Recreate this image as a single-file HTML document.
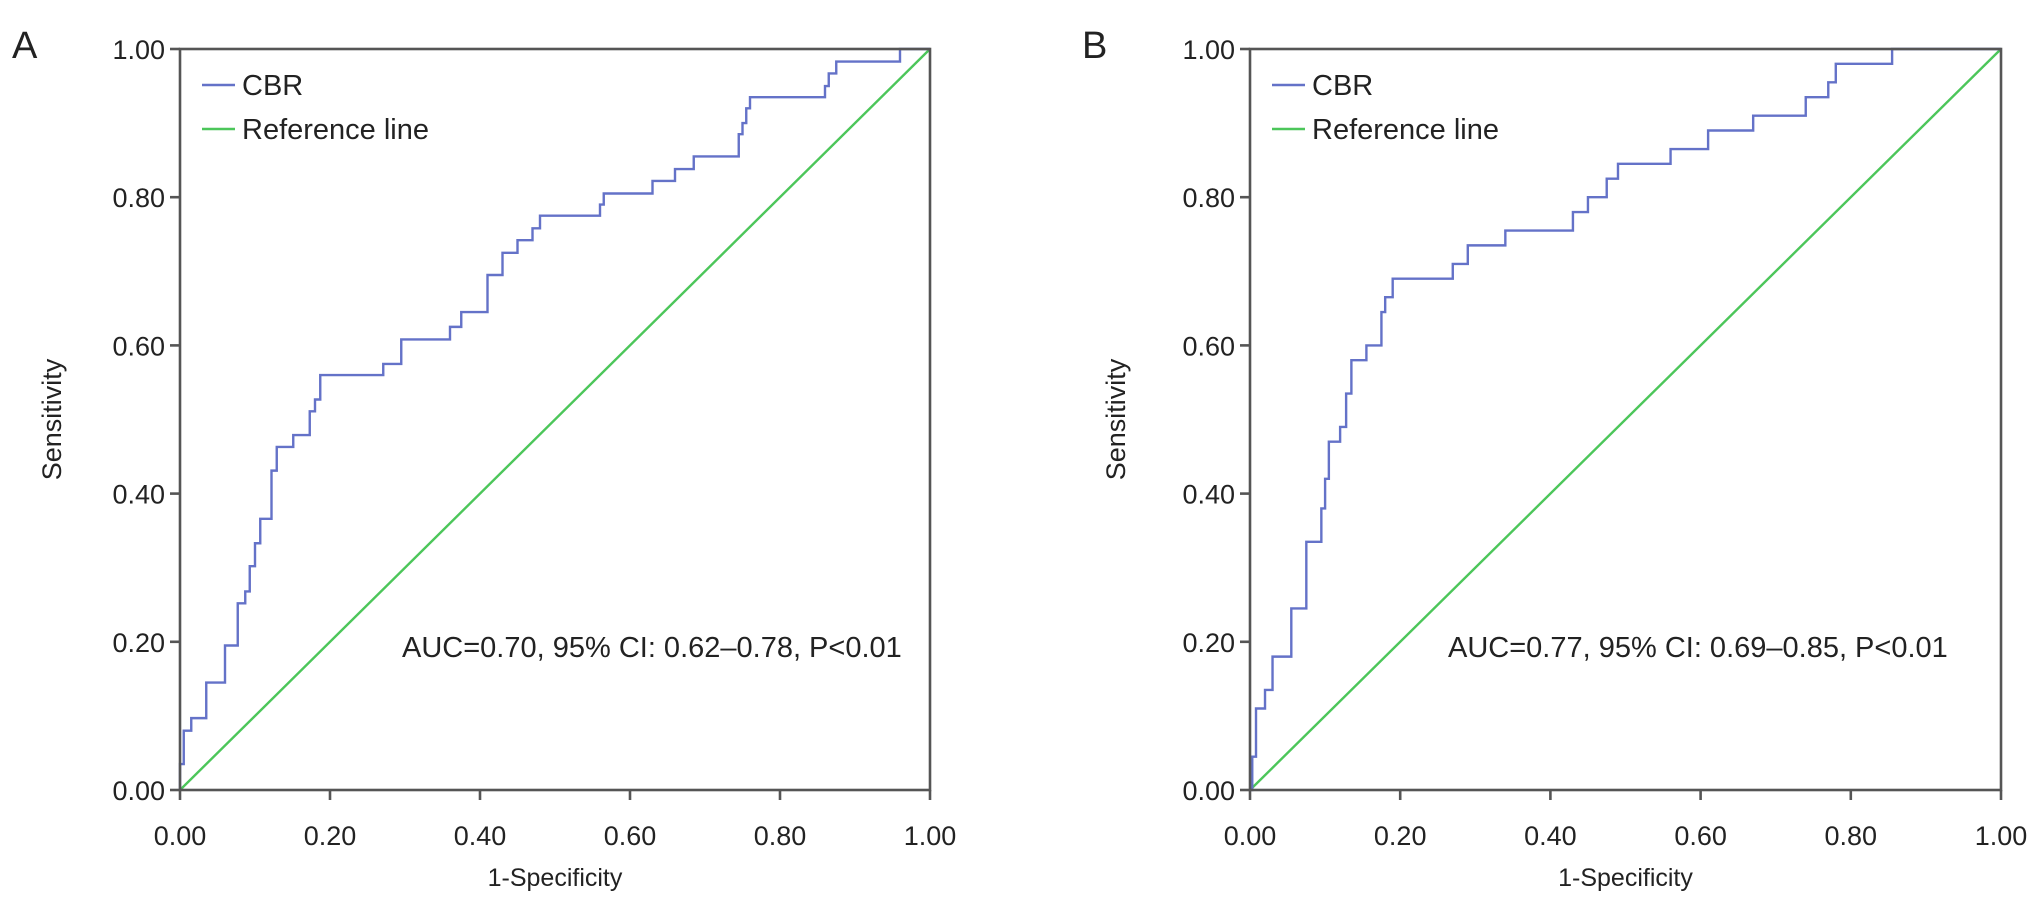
<!DOCTYPE html>
<html><head><meta charset="utf-8"><style>
body{margin:0;background:#fff}
svg{display:block;font-family:"Liberation Sans",Arial,sans-serif}
</style></head><body>
<svg id="chart" width="2032" height="901" viewBox="0 0 2032 901"></svg>
<script>
const xTicks=[0,0.2,0.4,0.6,0.8,1.0];
const yTicks=[0,0.2,0.4,0.6,0.8,1.0];
const fprA=[0,0,0.005,0.015,0.035,0.06,0.077,0.087,0.093,0.1,0.107,0.122,0.129,0.151,0.173,0.18,0.187,0.271,0.295,0.36,0.375,0.41,0.43,0.45,0.47,0.48,0.56,0.565,0.63,0.66,0.685,0.745,0.75,0.755,0.76,0.86,0.865,0.875,0.96,1];
const tprA=[0,0.035,0.08,0.097,0.145,0.195,0.252,0.268,0.302,0.333,0.366,0.431,0.463,0.479,0.511,0.527,0.56,0.575,0.608,0.625,0.645,0.695,0.725,0.742,0.758,0.775,0.79,0.805,0.822,0.838,0.855,0.885,0.9,0.92,0.935,0.95,0.967,0.983,1,1];
const fprB=[0,0.003,0.008,0.02,0.03,0.055,0.075,0.095,0.1,0.105,0.12,0.128,0.135,0.155,0.175,0.18,0.19,0.27,0.29,0.34,0.43,0.45,0.475,0.49,0.56,0.61,0.67,0.74,0.77,0.78,0.855,1];
const tprB=[0,0.045,0.11,0.135,0.18,0.245,0.335,0.38,0.42,0.47,0.49,0.535,0.58,0.6,0.645,0.665,0.69,0.71,0.735,0.755,0.78,0.8,0.825,0.845,0.865,0.89,0.91,0.935,0.955,0.98,1,1];
const panels=[
 {id:'a',letter:'A',x0:180,x1:930,fpr:fprA,tpr:tprA,auc:'AUC=0.70, 95% CI: 0.62–0.78, P<0.01',aucX:402,ylab:52},
 {id:'b',letter:'B',x0:1250,x1:2001,fpr:fprB,tpr:tprB,auc:'AUC=0.77, 95% CI: 0.69–0.85, P<0.01',aucX:1448,ylab:1116}
];
const Y0=790,Y1=49;
const NS='http://www.w3.org/2000/svg';
const svg=document.getElementById('chart');
function mk(t,a,p){const e=document.createElementNS(NS,t);for(const k in a)e.setAttribute(k,a[k]);(p||svg).appendChild(e);return e;}
panels.forEach(P=>{
 const sx=v=>P.x0+v*(P.x1-P.x0), sy=v=>Y0+v*(Y1-Y0);
 const g=mk('g',{});
 
 
 const L=mk('text',{x:P.x0-168,y:58,'font-size':38,fill:'#222'},g);L.textContent=P.letter;
 
 
 const ref=mk('line',{x1:sx(0),y1:sy(0),x2:sx(1),y2:sy(1),stroke:'#4cc65a','stroke-width':2.4},g);
 
 
 let d='M'+sx(P.fpr[0])+','+sy(P.tpr[0]);
 for(let i=1;i<P.fpr.length;i++){d+=' H'+sx(P.fpr[i])+' V'+sy(P.tpr[i]);}
 const c=mk('path',{d:d,fill:'none',stroke:'#6472c8','stroke-width':2.4},g);
 
 
 const fr=mk('rect',{x:sx(0),y:sy(1),width:P.x1-P.x0,height:Y0-Y1,fill:'none',stroke:'#555','stroke-width':2.6},g);
 
 
 yTicks.forEach(v=>{
  mk('line',{x1:sx(0)-10,x2:sx(0),y1:sy(v),y2:sy(v),stroke:'#555','stroke-width':2.6},g);
  const t=mk('text',{x:sx(0)-15,y:sy(v)+10,'font-size':27,'text-anchor':'end',fill:'#222'},g);t.textContent=v.toFixed(2);
  
  
 });
 xTicks.forEach(v=>{
  mk('line',{x1:sx(v),x2:sx(v),y1:Y0,y2:Y0+10,stroke:'#555','stroke-width':2.6},g);
  const t=mk('text',{x:sx(v),y:Y0+55,'font-size':27,'text-anchor':'middle',fill:'#222'},g);t.textContent=v.toFixed(2);
  
  
 });
 const xt=mk('text',{x:(P.x0+P.x1)/2,y:886,'font-size':25,'text-anchor':'middle',fill:'#222'},g);xt.textContent='1-Specificity';
 
 
 const yt=mk('text',{x:0,y:0,'font-size':27,'text-anchor':'middle',fill:'#222',transform:'translate('+(P.ylab+9)+','+((Y0+Y1)/2)+') rotate(-90)'},g);yt.textContent='Sensitivity';
 
 
 const a=mk('text',{x:P.aucX,y:657,'font-size':29,fill:'#222'},g);a.textContent=P.auc;
 
 
 [['CBR','#6472c8',85],['Reference line','#4cc65a',129]].forEach(([n,col,y])=>{
  const le=mk('g',{},g);
  
  
  mk('line',{x1:P.x0+22,x2:P.x0+55,y1:y,y2:y,stroke:col,'stroke-width':2.4},le);
  const t=mk('text',{x:P.x0+62,y:y+10,'font-size':29,fill:'#222'},le);t.textContent=n;
 });
});
</script>
</body></html>
